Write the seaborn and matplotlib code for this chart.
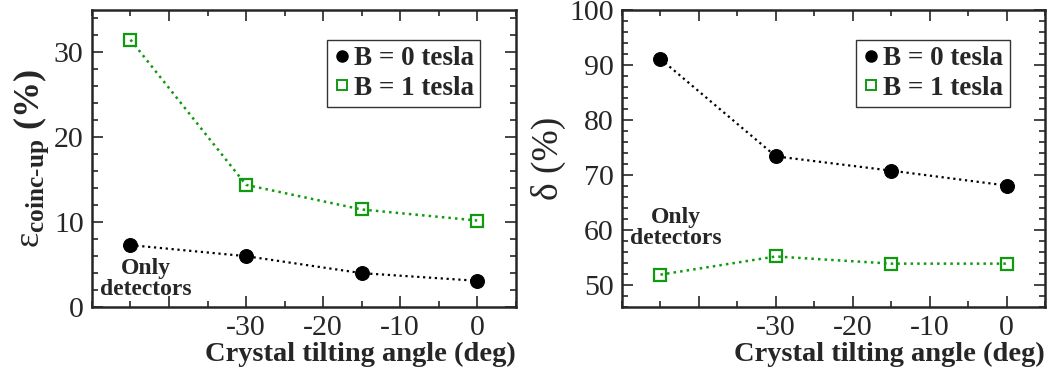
import matplotlib
matplotlib.use("Agg")
import matplotlib.pyplot as plt
from matplotlib.lines import Line2D
from matplotlib.ticker import MultipleLocator
import seaborn as sns
import pandas as pd

# tilt angle; "Only detectors" is placed at -45
angles = [-45, -30, -15, 0]
xtick_pos = [-40, -30, -20, -10, 0]
xtick_labels = ["", "-30", "-20", "-10", "0"]

eff_b0 = [7.3, 6.0, 4.0, 3.1]
eff_b1 = [31.5, 14.4, 11.5, 10.2]
delta_b0 = [91.1, 73.4, 70.8, 68.1]
delta_b1 = [51.9, 55.2, 53.9, 53.9]

green = "#109a10"

sns.set_style("ticks")
plt.rcParams["font.family"] = ["Liberation Serif", "DejaVu Serif"]
plt.rcParams["mathtext.fontset"] = "custom"
plt.rcParams["mathtext.rm"] = "Liberation Serif"
plt.rcParams["mathtext.it"] = "Liberation Serif:italic"
plt.rcParams["mathtext.bf"] = "Liberation Serif:bold"

fig = plt.figure(figsize=(10.5, 3.7), dpi=100)
ax1 = fig.add_axes([0.0876, 0.170, 0.4035, 0.803])
ax2 = fig.add_axes([0.5924, 0.170, 0.4028, 0.803])

df_left = pd.DataFrame({"angle": angles, "b0": eff_b0, "b1": eff_b1})
df_right = pd.DataFrame({"angle": angles, "b0": delta_b0, "b1": delta_b1})


def draw(ax, df):
    sns.lineplot(data=df, x="angle", y="b0", ax=ax, color="black", linestyle=":",
                 linewidth=1.6, marker="o", markersize=10, markeredgecolor="black")
    sns.lineplot(data=df, x="angle", y="b1", ax=ax, color=green, linestyle=":",
                 linewidth=1.8, marker="s", markersize=9, markerfacecolor="none",
                 markeredgecolor=green, markeredgewidth=1.6)
    ax.set_xlim(-50, 5)
    ax.set_xticks(xtick_pos)
    ax.set_xticklabels(xtick_labels)
    ax.xaxis.set_minor_locator(MultipleLocator(5))
    ax.yaxis.set_minor_locator(MultipleLocator(2))
    ax.tick_params(which="both", direction="in", top=True, right=True, width=1.2,
                   labelsize=21.5, pad=6)
    ax.tick_params(which="major", length=8)
    ax.tick_params(which="minor", length=4)
    for s in ax.spines.values():
        s.set_linewidth(1.8)
    ax.set_xlabel("Crystal tilting angle (deg)", fontsize=20.5, fontweight="bold",
                  labelpad=0, loc="right")
    handles = [
        Line2D([], [], linestyle="none", marker="o", color="black", markersize=8),
        Line2D([], [], linestyle="none", marker="s", markerfacecolor="none",
               markeredgecolor=green, markersize=7, markeredgewidth=1.4),
    ]
    leg = ax.legend(handles, ["B = 0 tesla", "B = 1 tesla"], loc="upper right",
                    bbox_to_anchor=(0.917, 0.9), frameon=True, fancybox=False,
                    handlelength=0.6, handletextpad=0.15, borderpad=0.25,
                    labelspacing=0.15, borderaxespad=0,
                    prop={"size": 19.5, "weight": "bold"})
    leg.get_frame().set_edgecolor("black")
    leg.get_frame().set_linewidth(1.0)


draw(ax1, df_left)
ax1.set_ylim(0, 35)
ax1.set_yticks([0, 10, 20, 30])
ax1.set_ylabel(r"$\mathrm{ε}_{\mathbf{coinc\text{-}up}}$ $\mathbf{(\%)}$", fontsize=26, labelpad=2)
ax1.text(-43, 3.3, "Only\ndetectors", ha="center", va="center", fontsize=17,
         fontweight="bold", linespacing=1.0)

draw(ax2, df_right)
ax2.set_ylim(46, 100)
ax2.set_yticks([50, 60, 70, 80, 90, 100])
ax2.set_ylabel("δ (%)", fontsize=27, labelpad=2)
ax2.text(-43, 60.3, "Only\ndetectors", ha="center", va="center", fontsize=17,
         fontweight="bold", linespacing=1.0)

fig.savefig("out.png", dpi=100)
